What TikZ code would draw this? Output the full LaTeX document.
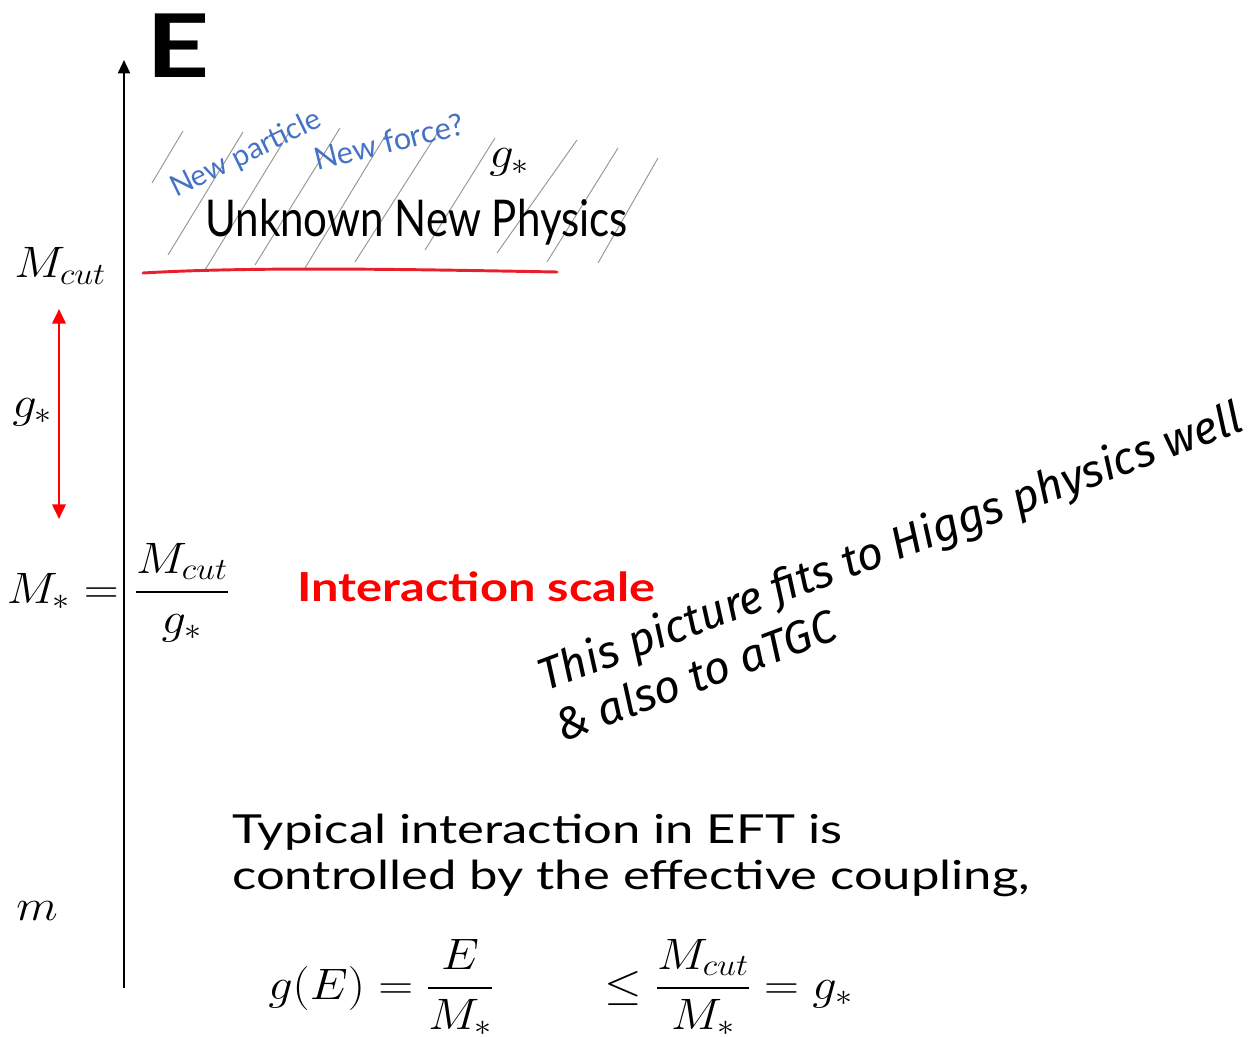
\RequirePackage{fix-cm}
\documentclass[tikz,border=0pt]{standalone}
\usepackage{amsmath}
\usepackage{graphicx}
\usepackage{fontspec}
\usetikzlibrary{arrows.meta}
\newfontfamily\handE{Lato}[FakeStretch=1.25]
\newfontfamily\handU{Lato}[FakeStretch=0.83]
\newfontfamily\handW{Lato}[FakeStretch=1.27]
\newfontfamily\handR{Lato}[FakeStretch=1.22]
\newfontfamily\handB{Lato}
\newfontfamily\comicfont{Fira Sans}
\newcommand\mathwide[1]{\scalebox{1.1}[1]{$\displaystyle #1$}}
\definecolor{blueink}{RGB}{68,114,196}
\definecolor{redline}{RGB}{232,32,44}
\definecolor{hatchgray}{RGB}{150,150,150}
\begin{document}
\begin{tikzpicture}[x=0.75pt,y=-0.75pt,
  mathlbl/.style={inner sep=0pt,font=\fontsize{33}{40}\selectfont},
  bluetxt/.style={inner sep=0pt,text=blueink,font=\handB\fontsize{#1}{#1}\selectfont},
  comic/.style={inner sep=0pt,font=\comicfont\itshape\fontsize{34}{34}\selectfont,anchor=base west,rotate=20.5},
  typtxt/.style={inner sep=0pt,font=\handW\fontsize{30}{30}\selectfont,anchor=base west},
  axisline/.style={line width=1.6pt,-{Triangle[width=9pt,length=10pt]}},
  scalearrow/.style={line width=2pt,red,{Triangle[width=10pt,length=11pt]}-{Triangle[width=10pt,length=11pt]}},
  hatch/.style={hatchgray,line width=0.7pt}]
\useasboundingbox[fill=white] (0,0) rectangle (1253,1037);

% energy axis
\coordinate (axbot) at (124,988);
\coordinate (axtop) at (124,60);
\draw[axisline] (axbot) -- (axtop);
\node[inner sep=0pt,font=\handE\bfseries\fontsize{66}{66}\selectfont,anchor=base west] (E) at (146,78) {E};

% hatched region
\foreach \xb/\yb/\xt/\yt in {152/183/183/131, 168/255/243/132, 205/270/290/131,
   255/265/340/128, 305/268/390/128, 355/262/440/129, 425/250/495/138,
   497/253/577/140, 547/262/618/148, 598/263/658/158}
  \draw[hatch] (\xb,\yb) -- (\xt,\yt);

% red cut line
\coordinate (cutL) at (143,273);
\coordinate (cutR) at (557,272);
\draw[redline,line width=2.2pt,line cap=round] (cutL) .. controls (260,266) and (440,270) .. (cutR);

\node[bluetxt=22,anchor=base west,rotate=26] (npart) at (176,198) {New particle};
\node[bluetxt=23,anchor=base west,rotate=14] (nforce) at (317,171) {New force?};
\node[mathlbl,anchor=base west] (gstarA) at (489,168) {\mathwide{g_*}};
\node[inner sep=0pt,font=\handU\fontsize{38}{38}\selectfont,anchor=base west] (unk) at (205,237) {Unknown New Physics};

% left labels
\node[mathlbl,anchor=base west] (Mcut) at (14,278) {\mathwide{M_{cut}}};
\coordinate (arrTop) at (59,309);
\coordinate (arrBot) at (59,519);
\draw[scalearrow] (arrBot) -- (arrTop);
\node[mathlbl,anchor=base west] (gstarB) at (12,417) {\mathwide{g_*}};
\node[mathlbl,anchor=base east] (Mstar) at (119,603) {\mathwide{M_*=}};
\node[mathlbl,anchor=base west] (frac) at (134,603) {\mathwide{\frac{M_{cut}}{g_*}}};
\node[mathlbl,anchor=base west] (m) at (16,920) {\mathwide{m}};

\node[inner sep=0pt,text=red,font=\handR\bfseries\fontsize{30}{30}\selectfont,anchor=base west] (iscale) at (297,601) {Interaction scale};

\node[comic] (note1) at (545,692) {This picture fits to Higgs physics well};
\node[comic] (note2) at (562,743) {\& also to aTGC};

\node[typtxt] (typ1) at (232,843) {Typical interaction in EFT is};
\node[typtxt] (typ2) at (232,889) {controlled by the effective coupling,};

\node[mathlbl,anchor=base west] (geq) at (268,999) {\mathwide{g(E)=\frac{E}{M_*}}};
\node[mathlbl,anchor=base west] (leq) at (604,999) {\mathwide{\le\frac{M_{cut}}{M_*}=g_*}};
\end{tikzpicture}
\end{document}
